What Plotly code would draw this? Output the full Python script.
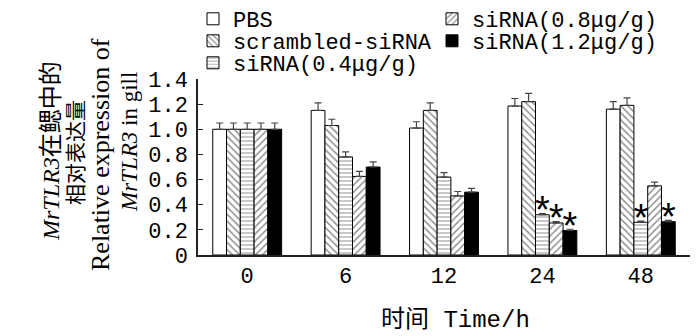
import plotly.graph_objects as go

categories = ["0", "6", "12", "24", "48"]
series_names = ["PBS", "scrambled-siRNA", "siRNA(0.4μg/g)", "siRNA(0.8μg/g)", "siRNA(1.2μg/g)"]

pbs = [1.00, 1.15, 1.01, 1.185, 1.16]
scrambled = [1.00, 1.03, 1.15, 1.22, 1.19]
si04 = [1.00, 0.78, 0.62, 0.32, 0.26]
si08 = [1.00, 0.625, 0.47, 0.255, 0.55]
si12 = [1.00, 0.70, 0.50, 0.195, 0.265]

pbs_err = [0.05, 0.06, 0.05, 0.06, 0.06]
scrambled_err = [0.05, 0.05, 0.06, 0.065, 0.06]
si04_err = [0.05, 0.04, 0.035, 0.01, 0.01]
si08_err = [0.05, 0.04, 0.035, 0.01, 0.03]
si12_err = [0.05, 0.04, 0.03, 0.01, 0.01]

# significance marks (1 = asterisk)
si04_sig = [0, 0, 0, 1, 1]
si08_sig = [0, 0, 0, 1, 0]
si12_sig = [0, 0, 0, 1, 1]

y_tickvals = [0, 0.2, 0.4, 0.6, 0.8, 1.0, 1.2, 1.4]
y_ticktext = ["0", "0.2", "0.4", "0.6", "0.8", "1.0", "1.2", "1.4"]

values = [pbs, scrambled, si04, si08, si12]
errors = [pbs_err, scrambled_err, si04_err, si08_err, si12_err]
sigs = [None, None, si04_sig, si08_sig, si12_sig]

styles = [
    dict(color="white", pattern=dict(shape="")),
    dict(color="white", pattern=dict(shape="\\", fgcolor="#222", bgcolor="white", size=5, solidity=0.3)),
    dict(color="white", pattern=dict(shape="-", fgcolor="#777", bgcolor="white", size=4, solidity=0.4)),
    dict(color="white", pattern=dict(shape="/", fgcolor="#222", bgcolor="white", size=5, solidity=0.3)),
    dict(color="black", pattern=dict(shape="")),
]

positions = list(range(len(categories)))
bargap = 0.3
n = len(values)
bw = (1 - bargap) / n

legend_names = ["legend", "legend3", "legend5", "legend2", "legend4"]

fig = go.Figure()
for k in range(n):
    st = styles[k]
    fig.add_trace(go.Bar(
        x=positions, y=values[k], name=series_names[k],
        legend=legend_names[k],
        marker=dict(color=st["color"], line=dict(color="black", width=1), pattern=st["pattern"]),
        error_y=dict(type="data", symmetric=False, array=errors[k], arrayminus=[0] * len(categories),
                     color="#444", thickness=1.2, width=3.5),
    ))

for k in range(n):
    if sigs[k] is None:
        continue
    xs, ys = [], []
    for i, s in enumerate(sigs[k]):
        if s:
            xs.append(positions[i] + (k - (n - 1) / 2) * bw)
            ys.append(values[k][i] + errors[k][i])
    fig.add_trace(go.Scatter(
        x=xs, y=ys, mode="text", text=["*"] * len(xs), textposition="middle center",
        textfont=dict(family="Liberation Sans", size=38, color="black"),
        showlegend=False, hoverinfo="skip",
    ))

def px_to_paper_x(px):
    return (px - 198) / 492

def px_to_paper_y(py):
    return (255 - py) / 176

leg_font = dict(family="Liberation Mono", size=22, color="black")
leg_pos = {
    "legend": (193, 19), "legend3": (193, 41), "legend5": (193, 63),
    "legend2": (432, 19), "legend4": (432, 41),
}
legend_layout = {}
for name, (lx, ly) in leg_pos.items():
    legend_layout[name] = dict(x=px_to_paper_x(lx), y=px_to_paper_y(ly), xanchor="left", yanchor="middle",
                               font=leg_font, bgcolor="rgba(0,0,0,0)", borderwidth=0)

fig.update_layout(
    width=700, height=336,
    margin=dict(l=198, r=10, t=79, b=81, autoexpand=False),
    plot_bgcolor="white", paper_bgcolor="white",
    barmode="group", bargap=bargap, bargroupgap=0,
    showlegend=True,
    **legend_layout,
)

fig.update_xaxes(
    range=[-0.5, 4.5], tickmode="array", tickvals=positions, ticktext=categories,
    showline=True, linecolor="#222", linewidth=1.5, ticks="", showgrid=False, zeroline=False,
    tickfont=dict(family="Liberation Mono", size=22, color="black"),
)
fig.update_yaxes(
    range=[0, 1.4], tickmode="array", tickvals=y_tickvals, ticktext=y_ticktext,
    ticks="inside", ticklen=5, tickcolor="#222", tickwidth=1.2,
    showline=True, linecolor="#222", linewidth=1.5, showgrid=False, zeroline=False,
    tickfont=dict(family="Liberation Mono", size=22, color="black"),
    ticklabelstandoff=4,
)

serif = "Liberation Serif, Noto Sans CJK SC"
cjk = "Noto Sans CJK SC"
ytitle = [
    ("<i>MrTLR3</i>在鳃中的", 51, 151, serif, 24),
    ("相对表达量", 74, 153, cjk, 21),
    ("Relative expression of", 100, 155, "Liberation Serif", 26),
    ("<i>MrTLR3</i> in gill", 129, 142, "Liberation Serif", 23),
]
for text, cx, cy, fam, sz in ytitle:
    fig.add_annotation(
        text=text, xref="paper", yref="paper", x=px_to_paper_x(cx), y=px_to_paper_y(cy),
        xanchor="center", yanchor="middle", textangle=-90, showarrow=False,
        font=dict(family=fam, size=sz, color="black"),
    )

fig.add_annotation(
    text="时间 Time/h", xref="paper", yref="paper", x=px_to_paper_x(455), y=px_to_paper_y(320),
    xanchor="center", yanchor="middle", showarrow=False,
    font=dict(family="Liberation Mono, Noto Sans CJK SC", size=24, color="black"),
)

fig.write_html("out.html", config={"displayModeBar": False},
               post_script="document.body.style.margin='0';")
